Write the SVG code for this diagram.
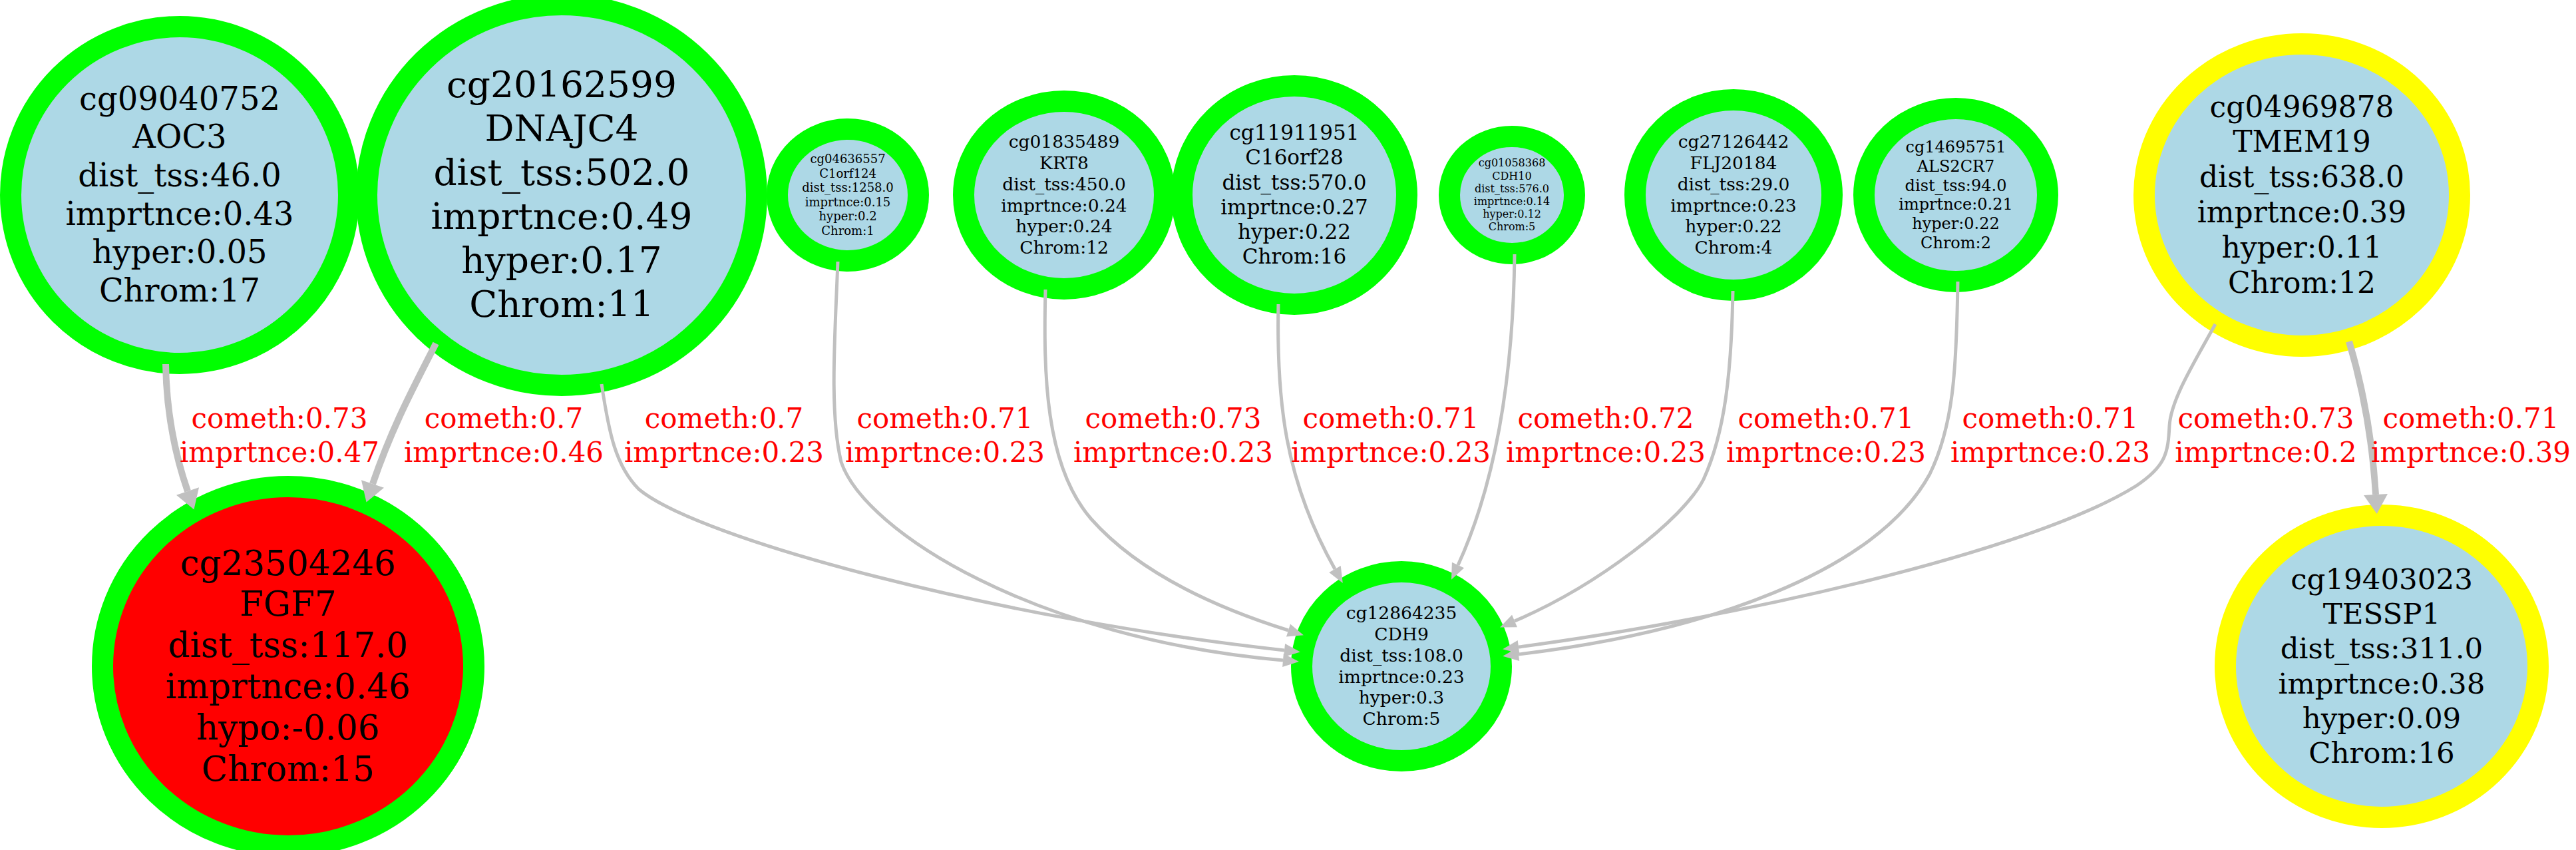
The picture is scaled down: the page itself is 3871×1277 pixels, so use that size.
<svg xmlns="http://www.w3.org/2000/svg" width="3871" height="1277" viewBox="0 0 3871 1277">
<style>
.n ellipse{fill:#add8e6;stroke:#00ff00;stroke-width:32}
.n.y ellipse{stroke:#ffff00}
.n.r ellipse{fill:#ff0000}
.n text{font-family:"DejaVu Serif","Liberation Serif",serif;text-anchor:middle;fill:#000}
.e path{fill:none;stroke:#c0c0c0}
.e .t{stroke-width:5;marker-end:url(#ah)}
.e .k{stroke-width:10;marker-end:url(#ahk)}
.l text{font-family:"DejaVu Serif","Liberation Serif",serif;font-size:42px;text-anchor:middle;fill:#ff0000}
</style>
<defs>
<marker id="ah" markerUnits="userSpaceOnUse" viewBox="0 -12 26 24" markerWidth="26" markerHeight="24" refX="0" refY="0" orient="auto" overflow="visible">
<path d="M0,-10 L24,0 L0,10 Z" fill="#c0c0c0"/>
</marker>
<marker id="ahk" markerUnits="userSpaceOnUse" viewBox="0 -20 32 40" markerWidth="32" markerHeight="40" refX="0" refY="0" orient="auto" overflow="visible">
<path d="M0,-18 L29,0 L0,18 Z" fill="#c0c0c0"/>
</marker>
</defs>
<rect width="3871" height="1277" fill="#ffffff"/>

<g id="n_cg09040752" class="n"><ellipse cx="270" cy="293" rx="254" ry="253"/>
<text font-size="48" y="164.8"><tspan x="270">cg09040752</tspan><tspan x="270" dy="57.6">AOC3</tspan><tspan x="270" dy="57.6">dist_tss:46.0</tspan><tspan x="270" dy="57.6">imprtnce:0.43</tspan><tspan x="270" dy="57.6">hyper:0.05</tspan><tspan x="270" dy="57.6">Chrom:17</tspan></text></g>

<g id="n_cg20162599" class="n"><ellipse cx="844" cy="293" rx="293" ry="286"/>
<text font-size="55" y="146.2"><tspan x="844">cg20162599</tspan><tspan x="844" dy="66">DNAJC4</tspan><tspan x="844" dy="66">dist_tss:502.0</tspan><tspan x="844" dy="66">imprtnce:0.49</tspan><tspan x="844" dy="66">hyper:0.17</tspan><tspan x="844" dy="66">Chrom:11</tspan></text></g>

<g id="n_cg04636557" class="n"><ellipse cx="1274" cy="293" rx="106" ry="99"/>
<text font-size="18" y="245"><tspan x="1274">cg04636557</tspan><tspan x="1274" dy="21.6">C1orf124</tspan><tspan x="1274" dy="21.6">dist_tss:1258.0</tspan><tspan x="1274" dy="21.6">imprtnce:0.15</tspan><tspan x="1274" dy="21.6">hyper:0.2</tspan><tspan x="1274" dy="21.6">Chrom:1</tspan></text></g>

<g id="n_cg01835489" class="n"><ellipse cx="1599" cy="293" rx="151" ry="141"/>
<text font-size="26.5" y="222.2"><tspan x="1599">cg01835489</tspan><tspan x="1599" dy="31.8">KRT8</tspan><tspan x="1599" dy="31.8">dist_tss:450.0</tspan><tspan x="1599" dy="31.8">imprtnce:0.24</tspan><tspan x="1599" dy="31.8">hyper:0.24</tspan><tspan x="1599" dy="31.8">Chrom:12</tspan></text></g>

<g id="n_cg11911951" class="n"><ellipse cx="1945" cy="293" rx="169" ry="164"/>
<text font-size="31" y="210.2"><tspan x="1945">cg11911951</tspan><tspan x="1945" dy="37.2">C16orf28</tspan><tspan x="1945" dy="37.2">dist_tss:570.0</tspan><tspan x="1945" dy="37.2">imprtnce:0.27</tspan><tspan x="1945" dy="37.2">hyper:0.22</tspan><tspan x="1945" dy="37.2">Chrom:16</tspan></text></g>

<g id="n_cg01058368" class="n"><ellipse cx="2272" cy="293" rx="94" ry="88"/>
<text font-size="16" y="250.3"><tspan x="2272">cg01058368</tspan><tspan x="2272" dy="19.2">CDH10</tspan><tspan x="2272" dy="19.2">dist_tss:576.0</tspan><tspan x="2272" dy="19.2">imprtnce:0.14</tspan><tspan x="2272" dy="19.2">hyper:0.12</tspan><tspan x="2272" dy="19.2">Chrom:5</tspan></text></g>

<g id="n_cg27126442" class="n"><ellipse cx="2605" cy="293" rx="148" ry="143"/>
<text font-size="26.5" y="222.2"><tspan x="2605">cg27126442</tspan><tspan x="2605" dy="31.8">FLJ20184</tspan><tspan x="2605" dy="31.8">dist_tss:29.0</tspan><tspan x="2605" dy="31.8">imprtnce:0.23</tspan><tspan x="2605" dy="31.8">hyper:0.22</tspan><tspan x="2605" dy="31.8">Chrom:4</tspan></text></g>

<g id="n_cg14695751" class="n"><ellipse cx="2939" cy="293" rx="138" ry="130"/>
<text font-size="24" y="228.9"><tspan x="2939">cg14695751</tspan><tspan x="2939" dy="28.8">ALS2CR7</tspan><tspan x="2939" dy="28.8">dist_tss:94.0</tspan><tspan x="2939" dy="28.8">imprtnce:0.21</tspan><tspan x="2939" dy="28.8">hyper:0.22</tspan><tspan x="2939" dy="28.8">Chrom:2</tspan></text></g>

<g id="n_cg04969878" class="n y"><ellipse cx="3459" cy="293" rx="237" ry="227"/>
<text font-size="44" y="175.5"><tspan x="3459">cg04969878</tspan><tspan x="3459" dy="52.8">TMEM19</tspan><tspan x="3459" dy="52.8">dist_tss:638.0</tspan><tspan x="3459" dy="52.8">imprtnce:0.39</tspan><tspan x="3459" dy="52.8">hyper:0.11</tspan><tspan x="3459" dy="52.8">Chrom:12</tspan></text></g>

<g id="n_cg23504246" class="n r"><ellipse cx="433" cy="1001" rx="279" ry="270"/>
<text font-size="51.5" y="863.5"><tspan x="433">cg23504246</tspan><tspan x="433" dy="61.8">FGF7</tspan><tspan x="433" dy="61.8">dist_tss:117.0</tspan><tspan x="433" dy="61.8">imprtnce:0.46</tspan><tspan x="433" dy="61.8">hypo:-0.06</tspan><tspan x="433" dy="61.8">Chrom:15</tspan></text></g>

<g id="n_cg12864235" class="n"><ellipse cx="2106" cy="1001" rx="150" ry="142"/>
<text font-size="26.5" y="930.2"><tspan x="2106">cg12864235</tspan><tspan x="2106" dy="31.8">CDH9</tspan><tspan x="2106" dy="31.8">dist_tss:108.0</tspan><tspan x="2106" dy="31.8">imprtnce:0.23</tspan><tspan x="2106" dy="31.8">hyper:0.3</tspan><tspan x="2106" dy="31.8">Chrom:5</tspan></text></g>

<g id="n_cg19403023" class="n y"><ellipse cx="3579" cy="1001" rx="235" ry="227"/>
<text font-size="43.5" y="884.9"><tspan x="3579">cg19403023</tspan><tspan x="3579" dy="52.2">TESSP1</tspan><tspan x="3579" dy="52.2">dist_tss:311.0</tspan><tspan x="3579" dy="52.2">imprtnce:0.38</tspan><tspan x="3579" dy="52.2">hyper:0.09</tspan><tspan x="3579" dy="52.2">Chrom:16</tspan></text></g>

<g id="connectors" class="e">
<path class="k" d="M249,547 C250,615 262,680 282,738"/>
<path class="k" d="M655,516 C620,585 590,640 560,727"/>
<path class="t" d="M904,577 C915,650 925,700 960,735 C1050,810 1500,930 1930,977"/>
<path class="t" d="M1259,393 C1255,500 1246,620 1264,694 C1300,800 1560,960 1928,992"/>
<path class="t" d="M1571,435 C1568,560 1570,700 1640,780 C1720,870 1850,920 1936,947"/>
<path class="t" d="M1921,457 C1918,600 1930,720 2006,855"/>
<path class="t" d="M2276,382 C2274,560 2250,720 2191,849"/>
<path class="t" d="M2604,437 C2602,560 2592,650 2560,720 C2530,780 2400,880 2276,933"/>
<path class="t" d="M2942,423 C2940,560 2935,640 2900,712 C2820,860 2560,950 2282,983"/>
<path class="t" d="M3329,487 C3300,540 3262,600 3260,640 C3258,680 3255,700 3210,730 C3050,830 2600,930 2282,972"/>
<path class="k" d="M3530,513 C3550,580 3565,660 3570,743"/>
</g>

<g id="edge_labels" class="l">
<text x="420" y="643">cometh:0.73<tspan x="420" y="694">imprtnce:0.47</tspan></text>
<text x="757" y="643">cometh:0.7<tspan x="757" y="694">imprtnce:0.46</tspan></text>
<text x="1088" y="643">cometh:0.7<tspan x="1088" y="694">imprtnce:0.23</tspan></text>
<text x="1420" y="643">cometh:0.71<tspan x="1420" y="694">imprtnce:0.23</tspan></text>
<text x="1763" y="643">cometh:0.73<tspan x="1763" y="694">imprtnce:0.23</tspan></text>
<text x="2090" y="643">cometh:0.71<tspan x="2090" y="694">imprtnce:0.23</tspan></text>
<text x="2413" y="643">cometh:0.72<tspan x="2413" y="694">imprtnce:0.23</tspan></text>
<text x="2744" y="643">cometh:0.71<tspan x="2744" y="694">imprtnce:0.23</tspan></text>
<text x="3081" y="643">cometh:0.71<tspan x="3081" y="694">imprtnce:0.23</tspan></text>
<text x="3405" y="643">cometh:0.73<tspan x="3405" y="694">imprtnce:0.2</tspan></text>
<text x="3713" y="643">cometh:0.71<tspan x="3713" y="694">imprtnce:0.39</tspan></text>
</g>
</svg>
